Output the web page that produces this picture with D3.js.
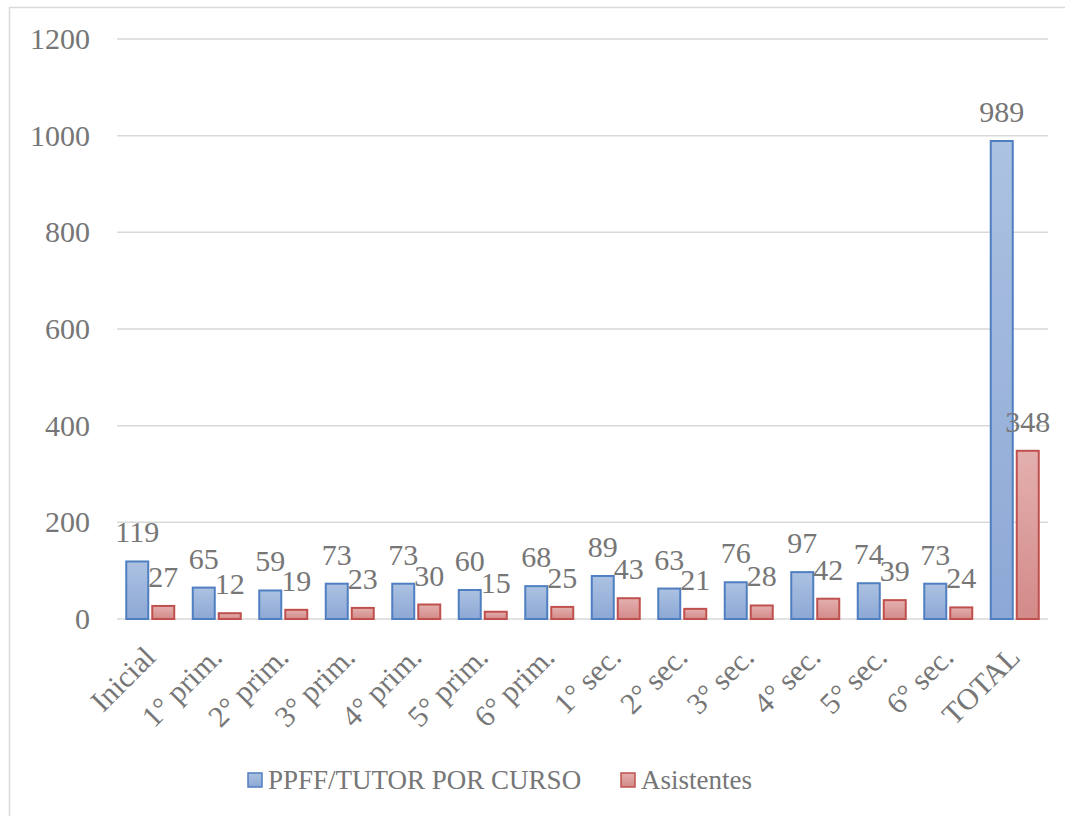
<!DOCTYPE html>
<html>
<head>
<meta charset="utf-8">
<script src="https://cdn.jsdelivr.net/npm/d3@7"></script>
<style>
  body { margin: 0; background: #fff; }
</style>
</head>
<body>
<svg id="chart" width="1065" height="816"></svg>
<script>
const categories = ["Inicial", "1° prim.", "2° prim.", "3° prim.", "4° prim.", "5° prim.", "6° prim.", "1° sec.", "2° sec.", "3° sec.", "4° sec.", "5° sec.", "6° sec.", "TOTAL"];
const tutores = [119, 65, 59, 73, 73, 60, 68, 89, 63, 76, 97, 74, 73, 989];
const asistentes = [27, 12, 19, 23, 30, 15, 25, 43, 21, 28, 42, 39, 24, 348];
const seriesNames = ["PPFF/TUTOR POR CURSO", "Asistentes"];
const yTicks = [0, 200, 400, 600, 800, 1000, 1200];

const svg = d3.select("#chart")
  .style("font-family", "'Liberation Serif', 'Times New Roman', serif");

// chart frame
svg.append("rect")
  .attr("x", 9.5).attr("y", 7.5)
  .attr("width", 1070).attr("height", 830)
  .attr("fill", "none").attr("stroke", "#d9d9d9").attr("stroke-width", 1.5);

const margin = { top: 39, right: 17, bottom: 197, left: 117 },
  width = 1065 - margin.left - margin.right,
  height = 816 - margin.top - margin.bottom;

const defs = svg.append("defs");
const grads = [["gBlue", "#adc2e2", "#8ca8d5"], ["gRed", "#e3b0af", "#d38a88"]];
grads.forEach(([id, c1, c2]) => {
  const lg = defs.append("linearGradient").attr("id", id)
    .attr("x1", 0).attr("y1", 0).attr("x2", 0).attr("y2", 1);
  lg.append("stop").attr("offset", "0%").attr("stop-color", c1);
  lg.append("stop").attr("offset", "100%").attr("stop-color", c2);
});

const x = d3.scaleBand().domain(categories).range([0, width]);
const y = d3.scaleLinear().domain([0, 1200]).range([height, 0]);

const g = svg.append("g").attr("transform", `translate(${margin.left},${margin.top})`);

// gridlines
g.append("g")
  .selectAll("line")
  .data(yTicks)
  .enter()
  .append("line")
  .attr("x1", 0).attr("x2", width)
  .attr("y1", d => y(d)).attr("y2", d => y(d))
  .attr("stroke", "#d9d9d9").attr("stroke-width", 1.5);

// y tick labels
g.append("g")
  .selectAll("text")
  .data(yTicks)
  .enter()
  .append("text")
  .attr("x", -27)
  .attr("y", d => y(d) + 10)
  .attr("text-anchor", "end")
  .attr("fill", "#767676")
  .style("font-size", "30px")
  .text(d => d);

const bw = 22, gap = 4;
const series = [
  { values: tutores, fill: "url(#gBlue)", stroke: "#4f7fc0", off: -gap / 2 - bw },
  { values: asistentes, fill: "url(#gRed)", stroke: "#c0504d", off: gap / 2 }
];

series.forEach(s => {
  const cx = (d, i) => x(categories[i]) + x.bandwidth() / 2 + s.off;
  g.append("g")
    .selectAll("rect")
    .data(s.values)
    .enter()
    .append("rect")
    .attr("x", cx)
    .attr("y", d => y(d))
    .attr("width", bw)
    .attr("height", d => height - y(d))
    .attr("fill", s.fill)
    .attr("stroke", s.stroke)
    .attr("stroke-width", 2);

  g.append("g")
    .selectAll("text")
    .data(s.values)
    .enter()
    .append("text")
    .attr("x", (d, i) => cx(d, i) + bw / 2)
    .attr("y", d => y(d) - 19)
    .attr("text-anchor", "middle")
    .attr("fill", "#767676")
    .style("font-size", "30px")
    .text(d => d);
});

// category labels
g.append("g")
  .selectAll("text")
  .data(categories)
  .enter()
  .append("text")
  .attr("transform", d => `translate(${x(d) + x.bandwidth() / 2 + 7},${height + 40}) rotate(-45)`)
  .attr("text-anchor", "end")
  .attr("fill", "#767676")
  .style("font-size", "30px")
  .text(d => d);

// legend
const legend = svg.append("g");
const legendX = [248, 621];
seriesNames.forEach((name, i) => {
  legend.append("rect")
    .attr("x", legendX[i]).attr("y", 773)
    .attr("width", 14).attr("height", 14)
    .attr("fill", series[i].fill)
    .attr("stroke", series[i].stroke)
    .attr("stroke-width", 1.5);
  legend.append("text")
    .attr("x", legendX[i] + 20).attr("y", 789)
    .attr("fill", "#767676")
    .style("font-size", "27px")
    .text(name);
});
</script>
</body>
</html>
